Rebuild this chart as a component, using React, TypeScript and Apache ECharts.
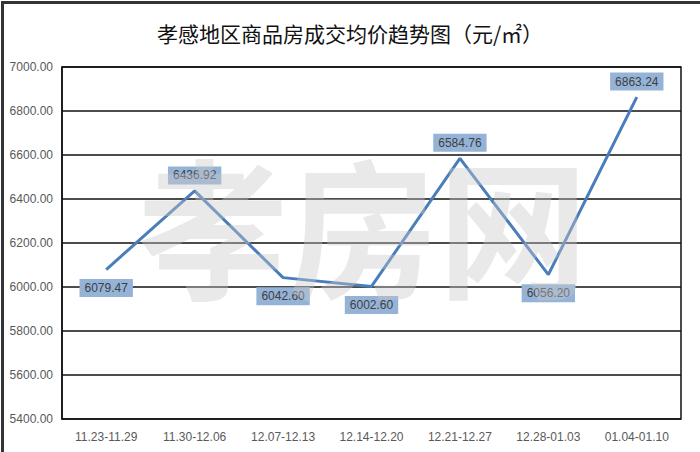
import React, { useEffect, useRef } from "react";
import * as echarts from "echarts";

const categories = ["11.23-11.29", "11.30-12.06", "12.07-12.13", "12.14-12.20", "12.21-12.27", "12.28-01.03", "01.04-01.10"];
const prices = [6079.47, 6436.92, 6042.6, 6002.6, 6584.76, 6056.2, 6863.24];
const labelPositions = ["bottom", "top", "bottom", "bottom", "top", "bottom", "top"];
const titleText = "孝感地区商品房成交均价趋势图（元/㎡）";
const watermarkText = "孝房网";

export default function App() {
  const ref = useRef<HTMLDivElement>(null);
  useEffect(() => {
    document.body.style.margin = "0";
    const chart = echarts.init(ref.current!, null, { renderer: "svg" });
    chart.setOption({
      animation: false,
      backgroundColor: "#ffffff",
      title: {
        text: titleText,
        left: "center",
        top: 17,
        textStyle: { fontFamily: "Noto Sans CJK SC", fontWeight: "normal", fontSize: 21, color: "#111" },
      },
      grid: { left: 62, right: 19, top: 67, bottom: 33, show: true, borderColor: "#111", borderWidth: 1.5 },
      xAxis: {
        type: "category",
        data: categories,
        boundaryGap: true,
        axisLine: { show: false },
        axisTick: { show: false },
        axisLabel: { color: "#595959", fontSize: 12, fontFamily: "Liberation Sans", margin: 12 },
      },
      yAxis: {
        type: "value",
        min: 5400,
        max: 7000,
        interval: 200,
        axisLine: { show: true, lineStyle: { color: "#111", width: 1.5 } },
        axisTick: { show: false },
        splitLine: { lineStyle: { color: "#111", width: 1.5 } },
        axisLabel: {
          color: "#595959",
          fontSize: 12,
          fontFamily: "Liberation Sans",
          margin: 9,
          formatter: (v: number) => v.toFixed(2),
        },
      },
      series: [
        {
          type: "line",
          data: prices.map((v, i) => ({
            value: v,
            label: { position: labelPositions[i], distance: labelPositions[i] === "bottom" ? 9 : 6 },
          })),
          symbol: "circle",
          symbolSize: 1,
          showSymbol: true,
          itemStyle: { color: "rgba(0,0,0,0)", borderWidth: 0 },
          lineStyle: { color: "#4A7EBB", width: 3 },
          z: 3,
          label: {
            show: true,
            opacity: 1,
            formatter: (p: any) => Number(p.value).toFixed(2),
            backgroundColor: "#95B3D7",
            color: "#404040",
            fontSize: 12,
            fontFamily: "Liberation Sans",
            padding: [3, 5, 3, 5],
          },
        },
      ],
      graphic: [
        {
          type: "text",
          left: 138,
          top: 146,
          z: 100,
          silent: true,
          style: {
            text: watermarkText,
            fontSize: 150,
            fontWeight: "bold",
            fontFamily: "Noto Sans CJK SC",
            fill: "rgba(200,200,200,0.4)",
          },
        },
        {
          type: "rect",
          left: 0,
          top: 0,
          z: 100,
          silent: true,
          shape: { width: 700, height: 452 },
          style: { fill: "none", stroke: "#333", lineWidth: 3 },
        },
      ],
    });
    return () => chart.dispose();
  }, []);
  return <div ref={ref} style={{ width: 700, height: 452 }} />;
}
